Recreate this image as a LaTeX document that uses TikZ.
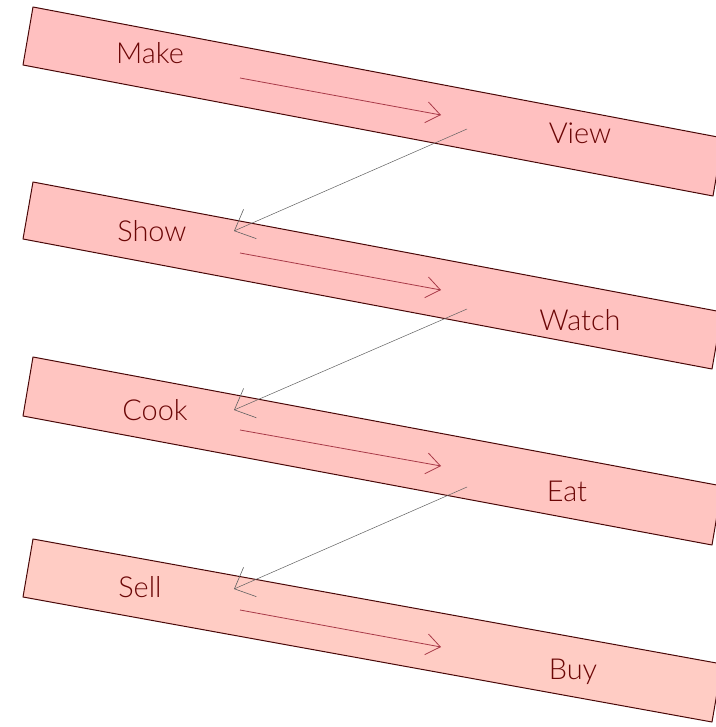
\documentclass[tikz,border=0pt]{standalone}
\usepackage{fontspec}
\setmainfont{Lato Light}
\usetikzlibrary{arrows.meta}
\definecolor{barA}{HTML}{FFC0C0}
\definecolor{barB}{HTML}{FFC2C0}
\definecolor{barC}{HTML}{FFC5C1}
\definecolor{barD}{HTML}{FFCCC4}
\definecolor{edgec}{HTML}{4A0808}
\definecolor{txt}{HTML}{6B0606}
\definecolor{inarr}{HTML}{A83A48}
\definecolor{crossarr}{HTML}{606060}
\begin{document}
\begin{tikzpicture}[x=1bp,y=-1bp,
  barshape/.style={draw=edgec,line width=1bp,line join=round},
  word/.style={text=txt,font=\fontsize{29}{34}\selectfont,anchor=base,inner sep=0pt},
  inner arrow/.style={draw=inarr,line width=0.8bp,-{Straight Barb[length=14bp,width=21bp,line width=0.8bp]}},
  cross arrow/.style={draw=crossarr,line width=0.5bp,-{Straight Barb[length=17bp,width=32bp,line width=0.6bp]}}]
\useasboundingbox (0,0) rectangle (716,727);
% bars
\path[barshape,fill=barA] (33,7) -- (723,138) -- (713,196) -- (23,65) -- cycle;
\path[barshape,fill=barB] (33,182) -- (722,312) -- (712,369) -- (23,239) -- cycle;
\path[barshape,fill=barC] (33,357) -- (722,486) -- (712,545) -- (23,416) -- cycle;
\path[barshape,fill=barD] (33,539) -- (722,664) -- (712,722) -- (23,597) -- cycle;
% words
\node[word] (make) at (150,64) {Make};
\node[word] (view) at (580,144) {View};
\node[word] (show) at (152,241) {Show};
\node[word] (watch) at (580,330) {Watch};
\node[word] (cook) at (155,420) {Cook};
\node[word] (eat) at (567,501) {Eat};
\node[word] (sell) at (140,597) {Sell};
\node[word] (buy) at (573,679) {Buy};
% arrow end points
\coordinate (a1s) at (240,78);  \coordinate (a1e) at (441,115);
\coordinate (a2s) at (240,253); \coordinate (a2e) at (441,290);
\coordinate (a3s) at (240,430); \coordinate (a3e) at (441,466);
\coordinate (a4s) at (240,610); \coordinate (a4e) at (441,647);
\coordinate (c1s) at (467,129); \coordinate (c1e) at (234,231);
\coordinate (c2s) at (467,309); \coordinate (c2e) at (234,410);
\coordinate (c3s) at (467,487); \coordinate (c3e) at (234,589);
% arrows
\draw[inner arrow] (a1s) -- (a1e);
\draw[inner arrow] (a2s) -- (a2e);
\draw[inner arrow] (a3s) -- (a3e);
\draw[inner arrow] (a4s) -- (a4e);
\draw[cross arrow] (c1s) -- (c1e);
\draw[cross arrow] (c2s) -- (c2e);
\draw[cross arrow] (c3s) -- (c3e);
\end{tikzpicture}
\end{document}
